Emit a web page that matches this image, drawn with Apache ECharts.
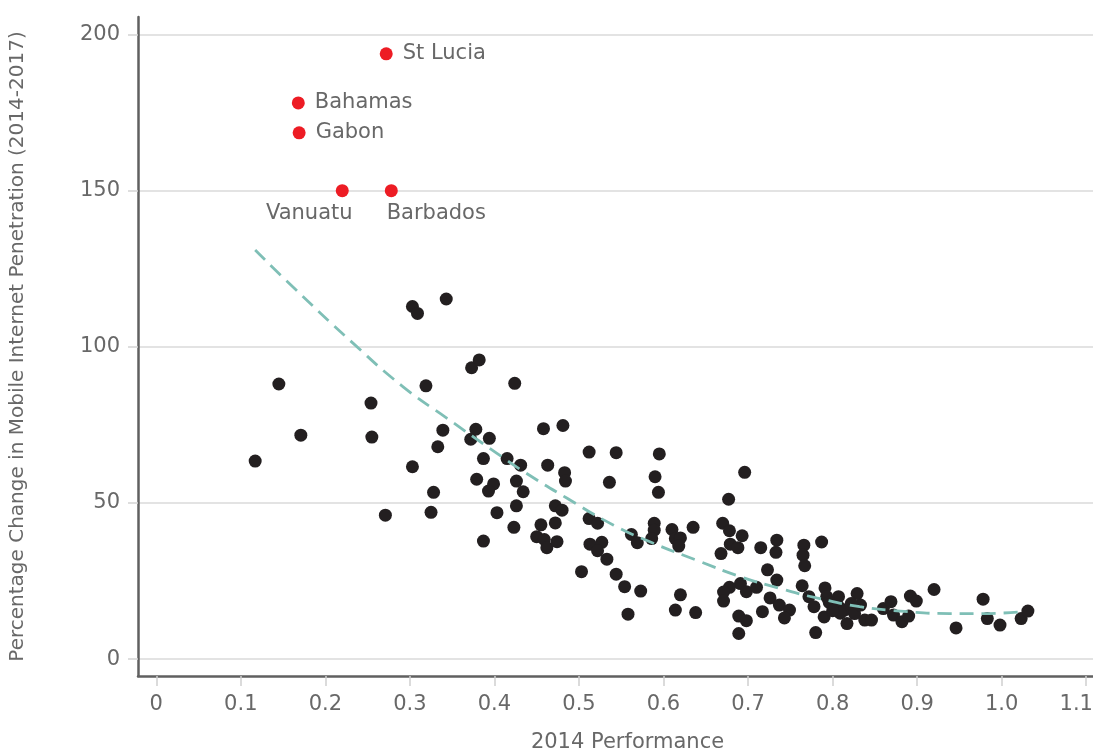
<!DOCTYPE html>
<html>
<head>
<meta charset="utf-8">
<script src="https://cdn.jsdelivr.net/npm/echarts@6/dist/echarts.min.js"></script>
<style>
  html, body { margin: 0; padding: 0; background: #fff; overflow: hidden; }
  #chart { width: 1093px; height: 756px; }
</style>
</head>
<body>
<div id="chart"></div>
<script>
// Tick positions shown on each axis
const xTicks = [0, 0.1, 0.2, 0.3, 0.4, 0.5, 0.6, 0.7, 0.8, 0.9, 1.0, 1.1];
const yTicks = [0, 50, 100, 150, 200];

// Countries: [2014 performance, % change in mobile internet penetration]
const countryPoints = [
  [0.117, 63.4], [0.145, 88.1], [0.171, 71.7], [0.254, 82.0], [0.255, 71.1], [0.271, 46.1],
  [0.303, 112.9], [0.309, 110.7], [0.343, 115.3], [0.373, 93.3], [0.382, 95.8], [0.424, 88.3],
  [0.319, 87.5], [0.339, 73.3], [0.378, 73.6], [0.372, 70.4], [0.394, 70.7], [0.333, 68.0],
  [0.387, 64.2], [0.415, 64.2], [0.431, 62.1], [0.303, 61.6], [0.379, 57.6], [0.399, 56.1],
  [0.393, 53.8], [0.426, 57.0], [0.434, 53.6], [0.328, 53.4], [0.426, 49.1], [0.325, 47.0],
  [0.403, 46.9], [0.423, 42.2], [0.387, 37.8], [0.458, 73.8], [0.481, 74.8], [0.463, 62.1],
  [0.472, 49.1], [0.455, 43.0], [0.472, 43.6], [0.450, 39.2], [0.459, 38.3], [0.462, 35.7],
  [0.474, 37.6], [0.512, 66.3], [0.544, 66.1], [0.595, 65.7], [0.483, 59.7], [0.484, 57.0],
  [0.536, 56.6], [0.590, 58.4], [0.594, 53.4], [0.480, 47.7], [0.512, 45.0], [0.522, 43.5],
  [0.513, 36.8], [0.527, 37.4], [0.522, 34.7], [0.533, 32.0], [0.503, 28.0], [0.544, 27.2],
  [0.554, 23.2], [0.573, 21.8], [0.558, 14.4], [0.562, 39.9], [0.569, 37.3], [0.589, 43.5],
  [0.589, 41.3], [0.586, 38.6], [0.610, 41.5], [0.614, 38.6], [0.620, 38.8], [0.618, 36.2],
  [0.635, 42.2], [0.620, 20.6], [0.614, 15.7], [0.638, 14.9], [0.696, 59.8], [0.677, 51.2],
  [0.670, 43.5], [0.678, 41.1], [0.693, 39.5], [0.679, 36.8], [0.688, 35.7], [0.668, 33.8],
  [0.715, 35.7], [0.734, 38.1], [0.733, 34.2], [0.766, 36.5], [0.765, 33.3], [0.767, 29.9],
  [0.787, 37.5], [0.723, 28.6], [0.734, 25.3], [0.764, 23.5], [0.691, 24.2], [0.678, 23.0],
  [0.671, 21.5], [0.671, 18.6], [0.698, 21.6], [0.710, 23.0], [0.726, 19.6], [0.737, 17.3],
  [0.749, 15.7], [0.743, 13.2], [0.717, 15.2], [0.689, 13.8], [0.698, 12.3], [0.689, 8.2],
  [0.772, 20.0], [0.778, 16.8], [0.791, 22.8], [0.793, 20.0], [0.790, 13.5], [0.780, 8.5],
  [0.807, 20.0], [0.807, 16.8], [0.814, 15.7], [0.817, 11.4], [0.826, 14.6], [0.829, 21.0],
  [0.833, 17.3], [0.838, 12.5], [0.846, 12.5], [0.860, 16.2], [0.869, 18.4], [0.872, 14.1],
  [0.882, 12.0], [0.892, 20.2], [0.899, 18.6], [0.890, 13.8], [0.920, 22.3], [0.946, 10.0],
  [0.978, 19.2], [0.983, 13.0], [0.998, 10.9], [1.023, 13.0], [1.031, 15.4],
  [0.796, 18.2], [0.809, 14.7], [0.822, 17.8], [0.800, 15.5]
];

// Outliers called out by name
const outlierNames = ['St Lucia', 'Bahamas', 'Gabon', 'Vanuatu', 'Barbados'];
const outlierX = [0.272, 0.168, 0.169, 0.220, 0.278];
const outlierY = [193.8, 178.1, 168.5, 150.0, 150.0];

// Fitted trend curve, sampled along its length
const trendX = [0.117, 0.158, 0.233, 0.292, 0.344, 0.403, 0.436, 0.486, 0.541, 0.588,
                0.639, 0.691, 0.742, 0.781, 0.832, 0.880, 0.939, 0.978, 1.026];
const trendY = [131.0, 120.1, 101.1, 87.2, 77.1, 65.9, 59.8, 51.5, 42.9, 37.1,
                31.7, 26.4, 22.3, 19.6, 16.8, 15.4, 14.6, 14.6, 15.2];

const FONT = 'DejaVu Sans';
const TEXT = '#686868';

const outlierLabels = {
  'St Lucia': { position: 'right', distance: 10 },
  'Bahamas': { position: 'right', distance: 10 },
  'Gabon': { position: 'right', distance: 10 },
  'Vanuatu': { position: 'bottom', distance: 6, offset: [-33, 0] },
  'Barbados': { position: 'bottom', distance: 6, offset: [45, 0] }
};

const outlierData = outlierNames.map((n, i) => ({
  name: n,
  value: [outlierX[i], outlierY[i]],
  label: Object.assign({ show: true, formatter: n }, outlierLabels[n])
}));

const lastXTick = xTicks[xTicks.length - 1];

function xLabel(v) {
  const txt = v === 0 ? '0' : v.toFixed(1);
  // the rightmost label is nudged left so it stays inside the canvas
  return Math.abs(v - lastXTick) < 1e-9 ? '{edge|' + txt + '}' : txt;
}

const chart = echarts.init(document.getElementById('chart'), null, { renderer: 'canvas' });

chart.setOption({
  animation: false,
  backgroundColor: '#ffffff',
  textStyle: { fontFamily: FONT },
  grid: { left: 138, right: 0, top: 17, bottom: 80, containLabel: false, outerBoundsMode: 'none' },
  xAxis: {
    type: 'value',
    min: -0.0216,
    max: 1.108,
    name: '2014 Performance',
    nameLocation: 'middle',
    nameGap: 56,
    nameTextStyle: { fontFamily: FONT, fontSize: 21, color: TEXT, padding: [0, 0, 0, 24] },
    axisLine: { show: true, onZero: false, lineStyle: { color: '#606060', width: 2.5 } },
    axisTick: { show: true, customValues: xTicks, length: 10, inside: false,
                lineStyle: { color: '#cfcfcf', width: 1.5 } },
    axisLabel: {
      customValues: xTicks, margin: 18, fontFamily: FONT, fontSize: 21, color: TEXT,
      hideOverlap: false, formatter: xLabel,
      rich: { edge: { fontFamily: FONT, fontSize: 21, color: TEXT, padding: [0, 20, 0, 0] } }
    },
    splitLine: { show: false }
  },
  yAxis: {
    type: 'value',
    min: -5.4,
    max: 205.6,
    name: 'Percentage Change in Mobile Internet Penetration (2014-2017)',
    nameLocation: 'middle',
    nameGap: 110,
    nameTextStyle: { fontFamily: FONT, fontSize: 20, color: TEXT },
    axisLine: { show: true, onZero: false, lineStyle: { color: '#606060', width: 2.5 } },
    axisTick: { show: true, customValues: yTicks, length: 10, inside: false,
                lineStyle: { color: '#d4d4d4', width: 1.5 } },
    axisLabel: { customValues: yTicks, margin: 18, fontFamily: FONT, fontSize: 21, color: TEXT },
    splitLine: { show: true, lineStyle: { color: '#dadada', width: 1.5 } }
  },
  series: [
    {
      name: 'Countries',
      type: 'scatter',
      data: countryPoints,
      symbol: 'circle',
      symbolSize: 13,
      itemStyle: { color: '#231f20', opacity: 1 },
      z: 3
    },
    {
      name: 'Outliers',
      type: 'scatter',
      data: outlierData,
      symbol: 'circle',
      symbolSize: 13,
      itemStyle: { color: '#ed1c24', opacity: 1 },
      label: { fontFamily: FONT, fontSize: 21, color: TEXT },
      z: 3
    },
    {
      name: 'Trend',
      type: 'line',
      data: trendX.map((x, i) => [x, trendY[i]]),
      smooth: true,
      showSymbol: false,
      symbol: 'none',
      lineStyle: { color: '#7fbfb6', width: 2.8, type: [14, 8] },
      z: 4
    }
  ]
});
</script>
</body>
</html>
